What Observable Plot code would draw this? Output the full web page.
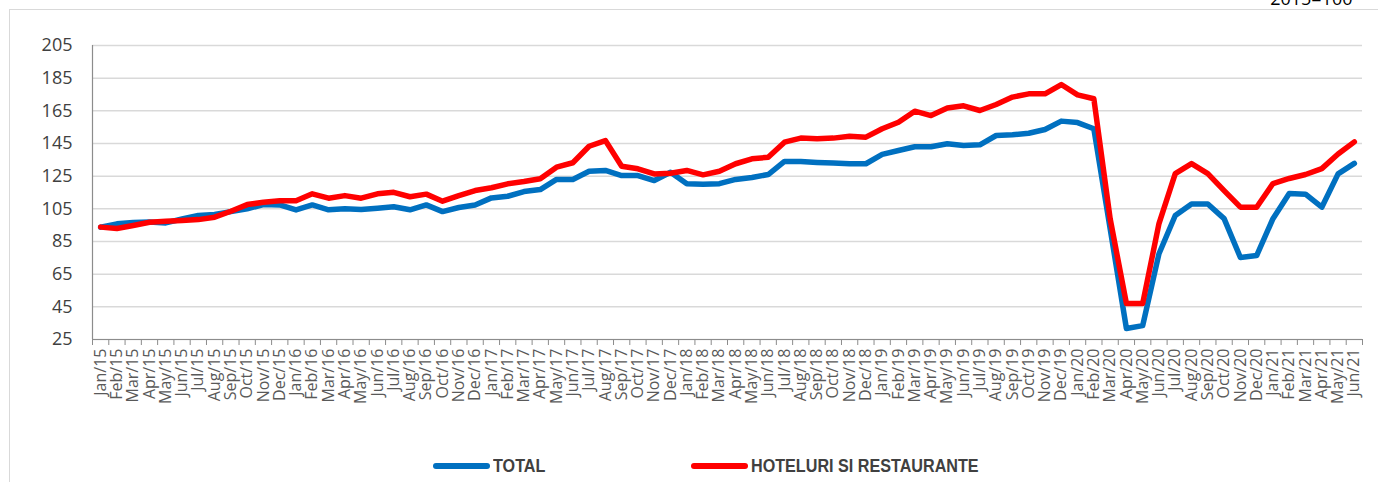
<!DOCTYPE html>
<html>
<head>
<meta charset="utf-8">
<script src="https://cdn.jsdelivr.net/npm/d3@7"></script>
<script src="https://cdn.jsdelivr.net/npm/@observablehq/plot@0.6"></script>
<style>
  html, body { margin: 0; padding: 0; background: #fff; }
  body { width: 1378px; height: 482px; overflow: hidden; position: relative; font-family: "Open Sans", sans-serif; }
  #frame { position: absolute; left: 9px; top: 9px; width: 1420px; height: 540px; border: 1px solid #d9d9d9; box-sizing: border-box; }
  #chart { position: absolute; left: 0; top: 0; }
  .item { position: absolute; top: 455px; height: 22px; display: flex; align-items: center;
          font-family: "Liberation Sans", sans-serif;
          font-weight: bold; font-size: 19px; color: #404040; white-space: nowrap; }
  .swatch { width: 57px; height: 6px; border-radius: 3px; margin-right: 3px; flex: none; }
  .txt { display: inline-block; transform: scaleX(0.85); transform-origin: left center; }
</style>
</head>
<body>
<div id="frame"></div>
<div id="chart"></div>
<div class="item" id="leg0" style="left:433px"><span class="swatch"></span><span class="txt" id="leg0t"></span></div>
<div class="item" id="leg1" style="left:691px"><span class="swatch"></span><span class="txt" id="leg1t"></span></div>
<script>
const labels = [
  "Jan/15","Feb/15","Mar/15","Apr/15","May/15","Jun/15","Jul/15","Aug/15","Sep/15","Oct/15","Nov/15","Dec/15",
  "Jan/16","Feb/16","Mar/16","Apr/16","May/16","Jun/16","Jul/16","Aug/16","Sep/16","Oct/16","Nov/16","Dec/16",
  "Jan/17","Feb/17","Mar/17","Apr/17","May/17","Jun/17","Jul/17","Aug/17","Sep/17","Oct/17","Nov/17","Dec/17",
  "Jan/18","Feb/18","Mar/18","Apr/18","May/18","Jun/18","Jul/18","Aug/18","Sep/18","Oct/18","Nov/18","Dec/18",
  "Jan/19","Feb/19","Mar/19","Apr/19","May/19","Jun/19","Jul/19","Aug/19","Sep/19","Oct/19","Nov/19","Dec/19",
  "Jan/20","Feb/20","Mar/20","Apr/20","May/20","Jun/20","Jul/20","Aug/20","Sep/20","Oct/20","Nov/20","Dec/20",
  "Jan/21","Feb/21","Mar/21","Apr/21","May/21","Jun/21"
];
const seriesNames = ["TOTAL", "HOTELURI SI RESTAURANTE"];
const seriesColors = ["#0070C0", "#FF0000"];
const total = [
  93.8, 95.8, 96.6, 97.0, 96.4, 98.8, 100.9, 101.5, 103.3, 105.0, 107.6, 107.4,
  104.3, 107.4, 104.4, 105.1, 104.6, 105.4, 106.3, 104.4, 107.4, 103.3, 105.8, 107.4,
  111.7, 112.7, 115.6, 116.8, 123.0, 123.0, 128.0, 128.5, 125.4, 125.4, 122.3, 127.4,
  120.4, 120.0, 120.4, 123.0, 124.2, 126.0, 134.0, 134.0, 133.4, 133.0, 132.6, 132.6,
  138.3, 140.7, 143.0, 143.0, 144.8, 143.8, 144.2, 149.9, 150.3, 151.3, 153.6, 158.7,
  157.8, 154.0, 93.0, 31.7, 33.5, 77.5, 100.9, 108.0, 108.0, 99.0, 75.2, 76.4,
  99.0, 114.4, 114.0, 106.0, 126.4, 132.8
];
const horeca = [
  93.8, 93.0, 94.8, 96.8, 97.4, 97.8, 98.4, 99.9, 103.5, 107.6, 109.0, 110.0,
  110.0, 114.2, 111.5, 113.1, 111.5, 114.2, 115.1, 112.4, 114.0, 109.7, 113.1, 116.2,
  117.9, 120.3, 121.7, 123.4, 130.5, 133.2, 143.3, 146.8, 131.1, 129.5, 126.4, 126.8,
  128.5, 125.8, 128.0, 132.6, 135.6, 136.6, 145.8, 148.3, 147.9, 148.3, 149.5, 148.9,
  154.0, 158.0, 164.8, 162.1, 166.7, 168.1, 165.2, 168.9, 173.4, 175.4, 175.4, 181.1,
  174.8, 172.4, 99.0, 47.0, 47.0, 96.0, 126.6, 132.7, 126.6, 116.2, 106.0, 106.0,
  120.5, 123.6, 126.0, 129.6, 138.6, 146.0
];
const yTicks = [25, 45, 65, 85, 105, 125, 145, 165, 185, 205];
const baseNote = "2015=100";

const rows = labels.map((m, i) => ({i, month: m, total: total[i], horeca: horeca[i]}));
const centers = labels.map((m, i) => i);
const bounds = d3.range(labels.length + 1).map(i => i - 0.5);

const chart = Plot.plot({
  width: 1378,
  height: 482,
  marginLeft: 92,
  marginRight: 16,
  marginTop: 45,
  marginBottom: 143,
  style: {fontFamily: "'Open Sans', sans-serif", background: "transparent", overflow: "visible"},
  x: {domain: [-0.5, labels.length - 0.5]},
  y: {domain: [25, 205]},
  marks: [
    Plot.gridY(yTicks, {stroke: "#d9d9d9", strokeOpacity: 1, strokeWidth: 1.5}),
    Plot.axisY(yTicks, {tickSize: 0, tickPadding: 20, fontSize: 18, fill: "#404040", label: null}),
    Plot.axisX(bounds, {tickSize: 6, tickFormat: () => "", stroke: "#8c8c8c", label: null}),
    Plot.axisX(centers, {tickSize: 0, tickPadding: 9, tickRotate: -90, tickFormat: i => labels[i], fontSize: 16, fill: "#595959", label: null}),
    Plot.ruleX([-0.5], {stroke: "#8c8c8c", strokeWidth: 1.2}),
    Plot.ruleY([25], {stroke: "#8c8c8c", strokeWidth: 1.2}),
    Plot.lineY(rows, {x: "i", y: "total", stroke: seriesColors[0], strokeWidth: 5.5, strokeLinejoin: "round"}),
    Plot.lineY(rows, {x: "i", y: "horeca", stroke: seriesColors[1], strokeWidth: 5.5, strokeLinejoin: "round"}),
    Plot.text([baseNote], {frameAnchor: "top-right", dx: -10, dy: -41, lineAnchor: "bottom", fontSize: 18, fill: "#000"})
  ]
});
document.getElementById("chart").appendChild(chart);
document.getElementById("leg0t").textContent = seriesNames[0];
document.getElementById("leg1t").textContent = seriesNames[1];
document.querySelector("#leg0 .swatch").style.background = seriesColors[0];
document.querySelector("#leg1 .swatch").style.background = seriesColors[1];
</script>
</body>
</html>
